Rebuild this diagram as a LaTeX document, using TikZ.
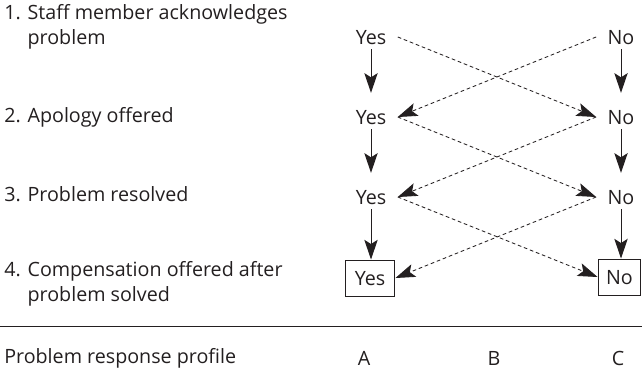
\documentclass[tikz,border=0pt]{standalone}
\usepackage{fontspec}
\setmainfont{Open Sans}
\usetikzlibrary{arrows.meta, positioning}

\definecolor{inkgray}{HTML}{231F20}

\tikzset{
  txt/.style={text=inkgray, font=\fontsize{14}{18}\selectfont},
  answer/.style={txt, inner xsep=8pt, inner ysep=2pt, text height=10pt, text depth=0pt},
  endbox/.style={answer, draw=inkgray, line width=0.7pt, minimum height=25.6pt, inner xsep=2pt},
  stagelabel/.style={txt, anchor=west, align=left, inner sep=0pt},
  downarrow/.style={draw=inkgray, line width=0.7pt, -{Stealth[length=14pt, width=9.5pt, inset=3pt]}, shorten <=1.5pt, shorten >=10pt},
  crossarrow/.style={draw=inkgray, line width=0.6pt, dash pattern=on 2.6pt off 2pt, -{Stealth[length=14pt, width=9.5pt, inset=3pt]}}
}

\begin{document}
\begin{tikzpicture}[x=0.025cm, y=-0.025cm]
    \useasboundingbox (0,0) rectangle (642,374);

    % stages on the left
    \node[stagelabel] (q1) at (4, 27) {1. Staff member acknowledges\\\hphantom{1. }problem};
    \node[stagelabel] (q2) at (4, 117) {2. Apology offered};
    \node[stagelabel] (q3) at (4, 194) {3. Problem resolved};
    \node[stagelabel] (q4) at (4, 284) {4. Compensation offered after\\\hphantom{4. }problem solved};

    % answers
    \node[answer] (yes1) at (371, 37) {Yes};
    \node[answer] (yes2) at (371, 117) {Yes};
    \node[answer] (yes3) at (371, 197) {Yes};
    \node[endbox, minimum width=35.5pt] (yes4) at (370, 278) {Yes};
    \node[answer] (no1) at (621, 37) {No};
    \node[answer] (no2) at (621, 117) {No};
    \node[answer] (no3) at (621, 197) {No};
    \node[endbox, minimum width=30.5pt] (no4) at (619.5, 277) {No};

    \draw[downarrow] (yes1) -- (yes2);
    \draw[downarrow] (yes2) -- (yes3);
    \draw[downarrow, shorten >=0pt] (yes3) -- (yes3 |- yes4.north);
    \draw[downarrow] (no1) -- (no2);
    \draw[downarrow] (no2) -- (no3);
    \draw[downarrow, shorten >=0pt] (no3) -- (no3 |- no4.north);

    \draw[crossarrow] (yes1.east) -- (no2.west);
    \draw[crossarrow] (no1.west) -- (yes2.east);
    \draw[crossarrow] (yes2.east) -- (no3.west);
    \draw[crossarrow] (no2.west) -- (yes3.east);
    \draw[crossarrow] (yes3.east) -- (no4.west);
    \draw[crossarrow] (no3.west) -- (yes4.east);

    % profile row
    \coordinate (ruleL) at (0, 326);
    \coordinate (ruleR) at (642, 326);
    \draw[inkgray, line width=0.7pt] (ruleL) -- (ruleR);

    \node[stagelabel] (profile) at (4, 358) {Problem response profile};
    \node[txt] (profA) at (364, 358) {A};
    \node[txt] (profB) at (494, 358) {B};
    \node[txt] (profC) at (618, 358) {C};
\end{tikzpicture}
\end{document}
